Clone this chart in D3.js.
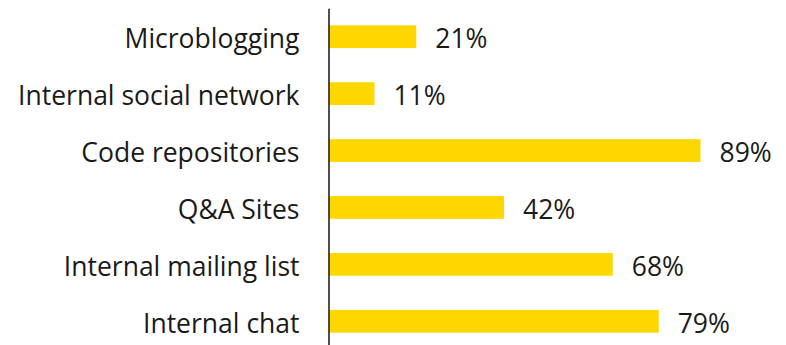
<!DOCTYPE html>
<html>
<head>
<meta charset="utf-8">
<script src="https://cdn.jsdelivr.net/npm/d3@7"></script>
<style>
  html, body { margin: 0; padding: 0; background: #fff; }
  svg { display: block; }
</style>
</head>
<body>
<svg id="chart" width="786" height="345"></svg>
<script>
// Share of respondents using each collaboration tool
const categories = ["Microblogging", "Internal social network", "Code repositories", "Q&A Sites", "Internal mailing list", "Internal chat"];
const values = [21, 11, 89, 42, 68, 79];

const svg = d3.select("#chart");
const font = "'Open Sans', sans-serif";
const fontSize = 26.5;
const barColor = "#FFD700";
const textColor = "#1a1a1a";

const axisX = 328.5;

const x = d3.scaleLinear().domain([0, 100]).range([axisX, axisX + 418]);
const y = d3.scaleBand()
  .domain(categories)
  .range([8.25, 349.75])
  .paddingInner(0.6)
  .paddingOuter(0.3);

// Bars
svg.append("g")
  .selectAll("rect")
  .data(categories)
  .join("rect")
  .attr("x", x(0))
  .attr("y", d => y(d))
  .attr("width", (d, i) => x(values[i]) - x(0))
  .attr("height", y.bandwidth())
  .attr("fill", barColor);

// Value labels
svg.append("g")
  .selectAll("text")
  .data(categories)
  .join("text")
  .attr("x", (d, i) => x(values[i]) + 19)
  .attr("y", d => y(d) + y.bandwidth() / 2)
  .attr("dy", "0.44em")
  .attr("font-family", font)
  .attr("font-size", fontSize)
  .attr("fill", textColor)
  .text((d, i) => values[i] + "%");

// Category axis
const axis = svg.append("g")
  .attr("transform", `translate(${axisX},0)`)
  .call(d3.axisLeft(y).tickSize(0).tickPadding(29));

axis.select(".domain")
  .attr("stroke", "#222")
  .attr("stroke-width", 1.6);

axis.selectAll("text")
  .attr("font-family", font)
  .attr("font-size", fontSize)
  .attr("dy", "0.44em")
  .attr("fill", textColor);
</script>
</body>
</html>
